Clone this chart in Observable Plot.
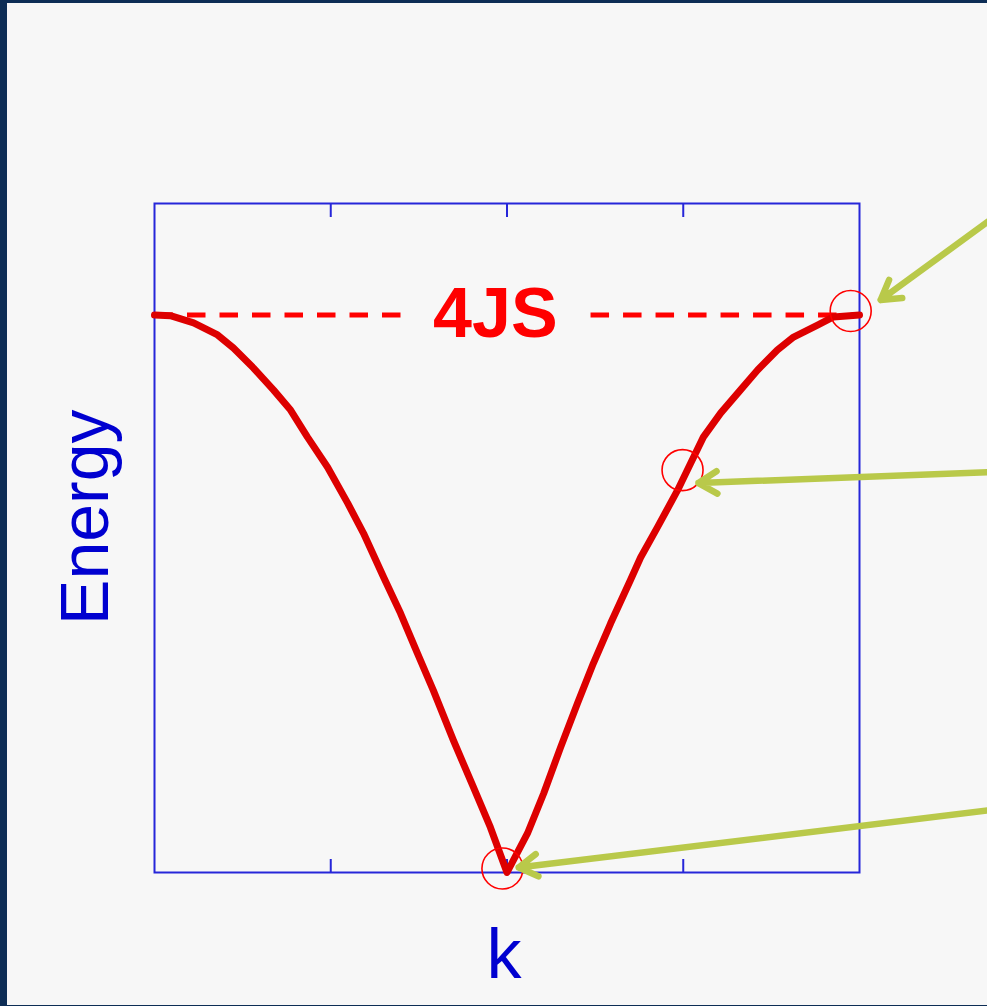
<!DOCTYPE html>
<html>
<head>
<meta charset="utf-8">
<script src="https://cdn.jsdelivr.net/npm/d3@7"></script>
<script src="https://cdn.jsdelivr.net/npm/@observablehq/plot@0.6"></script>
<style>
  html, body { margin: 0; padding: 0; background: #0d2d55; }
  #page { position: absolute; left: 7px; top: 3px; width: 980px; height: 1002px; background: #f7f7f7; overflow: hidden; }
  #page svg { display: block; }
</style>
</head>
<body>
<div id="page"></div>
<script>
// Magnon dispersion branch: wave vector k (zone units) and energy (units of JS)
const dispersionK = [-1.0, -0.955, -0.889, -0.821, -0.776, -0.719, -0.662, -0.614, -0.566, -0.509,
  -0.452, -0.407, -0.350, -0.302, -0.254, -0.209, -0.152, -0.095, -0.047, 0.0,
  0.058, 0.104, 0.152, 0.200, 0.245, 0.294, 0.350, 0.379, 0.427, 0.484,
  0.521, 0.557, 0.606, 0.662, 0.711, 0.767, 0.813, 0.881, 0.926, 1.0];
const dispersionE = [4.0, 3.995, 3.943, 3.857, 3.763, 3.619, 3.461, 3.318, 3.124, 2.908,
  2.650, 2.434, 2.118, 1.860, 1.573, 1.307, 0.948, 0.610, 0.323, 0.0,
  0.280, 0.567, 0.898, 1.214, 1.501, 1.788, 2.097, 2.260, 2.478, 2.743,
  2.937, 3.124, 3.296, 3.461, 3.605, 3.749, 3.842, 3.928, 3.986, 4.0];

// Zone-boundary energy level 4JS, drawn as a dashed line broken around its label
const levelLabel = "4JS";
const levelE = 4;
const levelLabelK = -0.033;
const levelSegStart = [-1.0, 0.237];
const levelSegEnd = [-0.302, 1.0];

// Highlighted points on the branch
const markerK = [0.975, 0.498, -0.013];
const markerE = [4.029, 2.887, 0.029];

// Pointer arrows coming in from the right
const arrowFromK = [1.40, 1.40, 1.40];
const arrowFromE = [4.736, 2.876, 0.456];
const arrowToK = [1.060, 0.543, 0.033];
const arrowToE = [4.108, 2.794, 0.036];

// Frame ticks
const tickK = [-0.5, 0, 0.5];

// Axis titles
const xTitle = "k";
const yTitle = "Energy";

const curve = dispersionK.map((k, i) => ({k, E: dispersionE[i]}));
const levelSegs = levelSegStart.map((s, i) => ({k1: s, k2: levelSegEnd[i], E: levelE}));
const markers = markerK.map((k, i) => ({k, E: markerE[i]}));
const arrows = arrowFromK.map((k, i) => ({x1: k, y1: arrowFromE[i], x2: arrowToK[i], y2: arrowToE[i]}));

const blue = "#2626d9";
const font = "'Liberation Sans', Arial, sans-serif";

const chart = Plot.plot({
  width: 980,
  height: 1002,
  marginLeft: 147,
  marginRight: 128,
  marginTop: 200,
  marginBottom: 133,
  style: {background: "transparent", fontFamily: font, overflow: "visible"},
  x: {domain: [-1, 1], axis: null},
  y: {domain: [0, 4.8], axis: null},
  marks: [
    Plot.frame({stroke: blue, strokeWidth: 2}),
    Plot.axisX(tickK, {anchor: "bottom", tickSize: -13, tickFormat: () => "", label: null, stroke: blue, strokeWidth: 2}),
    Plot.axisX(tickK, {anchor: "top", tickSize: -13, tickFormat: () => "", label: null, stroke: blue, strokeWidth: 2}),
    Plot.link(levelSegs, {x1: "k1", x2: "k2", y1: "E", y2: "E", stroke: "#ff0000", strokeWidth: 5, strokeDasharray: "18.5,14"}),
    Plot.text([levelLabel], {x: levelLabelK, y: levelE, text: d => d, fill: "#ff0000", fontSize: 70, fontWeight: "bold", lineAnchor: "middle", textAnchor: "middle"}),
    Plot.line(curve, {x: "k", y: "E", stroke: "#dd0000", strokeWidth: 7, strokeLinejoin: "round", strokeLinecap: "round"}),
    Plot.dot(markers, {x: "k", y: "E", r: 20.5, stroke: "#ff0000", strokeWidth: 1.6, fill: "none"}),
    Plot.arrow(arrows, {x1: "x1", y1: "y1", x2: "x2", y2: "y2", stroke: "#b9c94a", strokeWidth: 6.5, headLength: 5, headAngle: 62, strokeLinecap: "round"}),
    Plot.text([xTitle], {x: 0, y: -0.754, dx: -3, text: d => d, fill: "#0000d0", fontSize: 70, lineAnchor: "bottom", textAnchor: "middle"}),
    Plot.text([yTitle], {x: -1.133, y: 2.549, text: d => d, fill: "#0000d0", fontSize: 68, rotate: -90, lineAnchor: "bottom", textAnchor: "middle"})
  ]
});

document.getElementById("page").appendChild(chart);
</script>
</body>
</html>
